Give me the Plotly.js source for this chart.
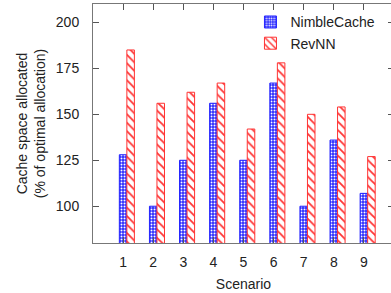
<!DOCTYPE html>
<html><head><meta charset="utf-8">
<script src="https://cdn.plot.ly/plotly-3.0.1.min.js"></script>
<style>html,body{margin:0;padding:0;overflow:hidden;background:#fff}#c{width:400px;height:293px}</style>
</head><body><div id="c"></div>
<script>
const scenarios = [1, 2, 3, 4, 5, 6, 7, 8, 9];
const nimbleCache = [128, 100, 125, 156, 125, 167, 100, 136, 107];
const revNN = [185, 156, 162, 167, 142, 178, 150, 154, 127];
const tickVals = [100, 125, 150, 175, 200];

const font = {family: 'Liberation Sans, Arial, sans-serif', size: 14, color: '#222'};
const traces = [
  {type: 'bar', name: 'NimbleCache', x: scenarios, y: nimbleCache, base: 0,
   offset: -0.125, width: 0.25,
   marker: {color: '#2b2bff', line: {color: '#2222ff', width: 1},
            pattern: {shape: '.', fgcolor: '#ffffff', bgcolor: '#2b2bff', size: 3, solidity: 0.35}}},
  {type: 'bar', name: 'RevNN', x: scenarios, y: revNN, base: 0,
   offset: 0.125, width: 0.25,
   marker: {color: '#ff0000', line: {color: '#ff3333', width: 1},
            pattern: {shape: '\\', fgcolor: '#ff3333', bgcolor: '#ffffff', size: 6, solidity: 0.3}}}
];
const layout = {
  width: 400, height: 293,
  margin: {l: 93, r: 6, t: 4, b: 50},
  paper_bgcolor: '#fff', plot_bgcolor: '#fff',
  font: font,
  showlegend: true,
  legend: {x: 0.955, y: 0.99, xanchor: 'right', yanchor: 'top', bgcolor: 'rgba(0,0,0,0)',
           font: font, tracegroupgap: 0},
  xaxis: {range: [0, 10], tickvals: scenarios, ticktext: scenarios.map(String),
          ticks: 'inside', ticklen: 6, tickcolor: '#555', showline: true, linecolor: '#777',
          mirror: 'ticks', showgrid: false, zeroline: false, ticklabelstandoff: 6,
          title: {text: 'Scenario', font: font, standoff: 10}},
  yaxis: {range: [80, 210], tickvals: tickVals, ticks: 'inside', ticklen: 6, tickcolor: '#555',
          showline: true, linecolor: '#777', mirror: 'ticks', showgrid: false, zeroline: false,
          ticklabelstandoff: 10,
          title: {text: 'Cache space allocated<br>(% of optimal allocation)', font: font, standoff: 6}}
};
Plotly.newPlot('c', traces, layout, {displayModeBar: false, staticPlot: true});
</script></body></html>
